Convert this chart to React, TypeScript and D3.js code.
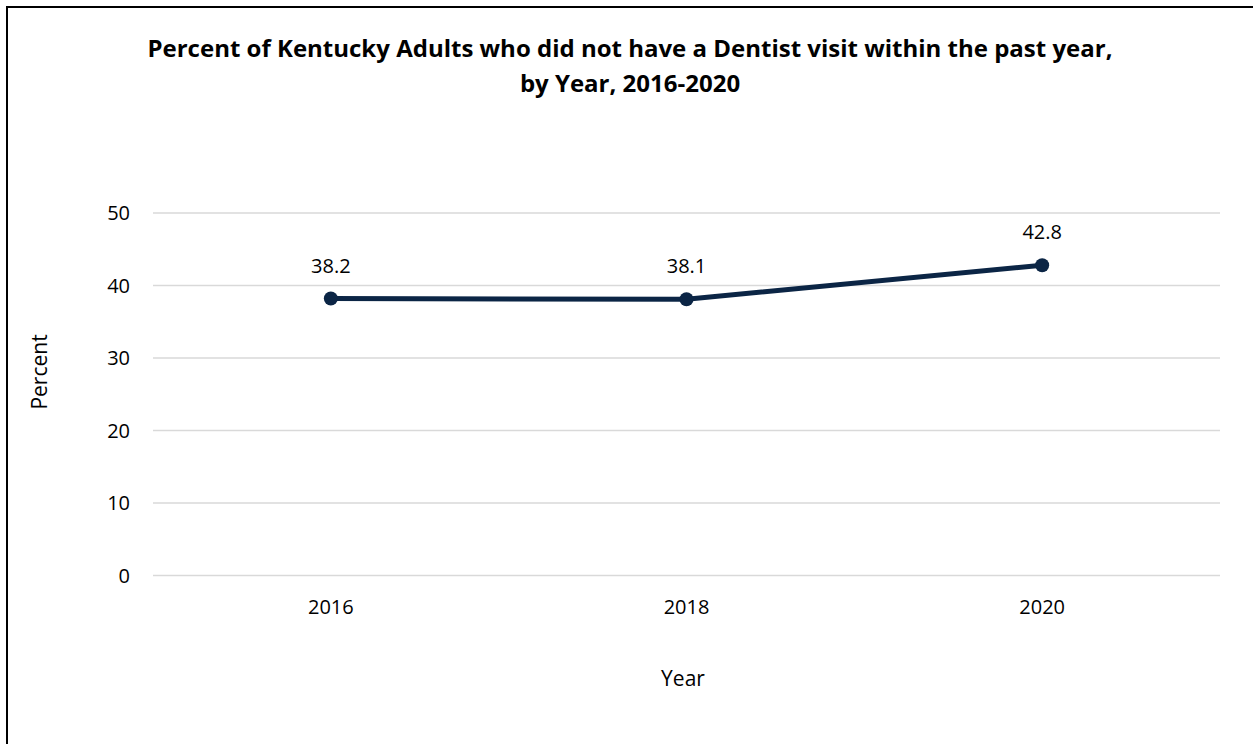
import React from "react";
import * as d3 from "d3";

const years = ["2016", "2018", "2020"];
const values = [38.2, 38.1, 42.8];
const yTicks = [0, 10, 20, 30, 40, 50];
const titleLines = [
  "Percent of Kentucky Adults who did not have a Dentist visit within the past year,",
  "by Year, 2016-2020",
];

const W = 1253;
const H = 744;
const FONT = "Open Sans, Noto Sans, sans-serif";

export default function App() {
  const x = d3.scaleBand<string>().domain(years).range([153, 1220]);
  const y = d3.scaleLinear().domain([0, 50]).range([575.5, 213]);
  const cx = (d: string) => (x(d) as number) + x.bandwidth() / 2;
  const line = d3
    .line<number>()
    .x((_, i) => cx(years[i]))
    .y((d) => y(d));
  const color = "#0b2545";

  return (
    <svg
      width={W}
      height={H}
      style={{ position: "absolute", left: 0, top: 0, background: "#fff" }}
    >
      <rect x={0} y={0} width={W} height={H} fill="#fff" />
      <rect x={7} y={7} width={W + 20} height={H + 20} fill="none" stroke="#000" strokeWidth={2} />
      {titleLines.map((t, i) => (
        <text
          key={i}
          x={630}
          y={57 + i * 35}
          textAnchor="middle"
          fontFamily={FONT}
          fontWeight="bold"
          fontSize={24}
          fill="#000"
        >
          {t}
        </text>
      ))}
      {yTicks.map((t) => (
        <g key={t}>
          <line x1={153} x2={1220} y1={y(t)} y2={y(t)} stroke="#d9d9d9" strokeWidth={1.5} />
          <text
            x={130}
            y={y(t) + 7}
            textAnchor="end"
            fontFamily={FONT}
            fontSize={20}
            fill="#000"
          >
            {t}
          </text>
        </g>
      ))}
      {years.map((yr) => (
        <text
          key={yr}
          x={cx(yr)}
          y={614}
          textAnchor="middle"
          fontFamily={FONT}
          fontSize={20}
          fill="#000"
        >
          {yr}
        </text>
      ))}
      <text x={683} y={686} textAnchor="middle" fontFamily={FONT} fontSize={21} fill="#000">
        Year
      </text>
      <text
        transform={`translate(47,372) rotate(-90)`}
        textAnchor="middle"
        fontFamily={FONT}
        fontSize={21}
        fill="#000"
      >
        Percent
      </text>
      <path d={line(values) || ""} fill="none" stroke={color} strokeWidth={5} strokeLinejoin="round" />
      {values.map((v, i) => (
        <g key={i}>
          <circle cx={cx(years[i])} cy={y(v)} r={7} fill={color} />
          <text
            x={cx(years[i])}
            y={y(v) - 26}
            textAnchor="middle"
            fontFamily={FONT}
            fontSize={20}
            fill="#000"
          >
            {v.toFixed(1)}
          </text>
        </g>
      ))}
    </svg>
  );
}
